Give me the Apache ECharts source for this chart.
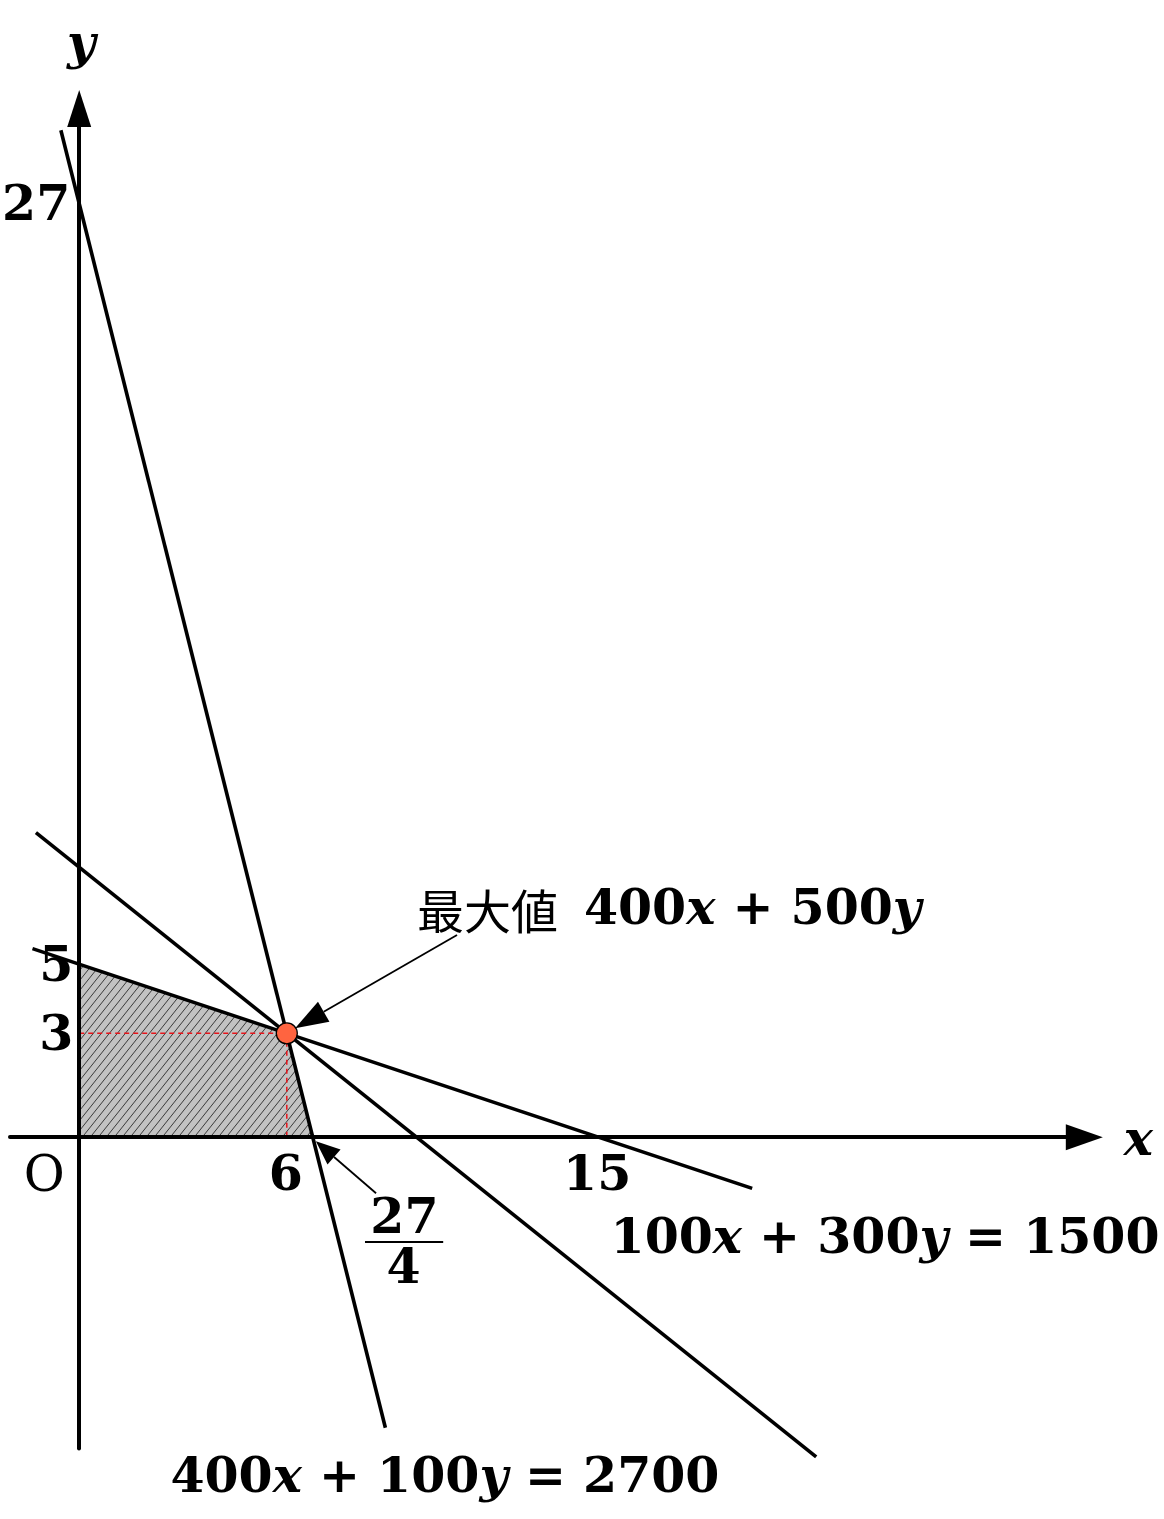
<!DOCTYPE html>
<html>
<head>
<meta charset="utf-8">
<script src="https://cdn.jsdelivr.net/npm/echarts@6/dist/echarts.min.js"></script>
<style>
  html, body { margin: 0; padding: 0; background: #fff; }
  #chart { width: 1164px; height: 1519px; }
</style>
</head>
<body>
<div id="chart"></div>
<script>
// ================= DATA =================

// 400x + 100y = 2700
const lineA = [[-0.53, 29.1], [8.85, -8.4]];
// 100x + 300y = 1500
const lineB = [[-1.35, 5.45], [19.45, -1.48]];
// 400x + 500y = 3900 (objective through the optimum)
const lineC = [[-1.25, 8.8], [21.3, -9.24]];

// feasible region
const regionX = [0, 0, 6, 6.75];
const regionY = [0, 5, 3, 0];

// optimum and its guide lines
const optimum = [6, 3];
const guideX = [0, 6, 6];
const guideY = [3, 3, 0];

// annotation arrows
const arrowFrom = [[10.92, 5.84], [8.58, -1.62]];
const arrowTo = [[6.24, 3.15], [6.84, -0.12]];

// tick values / labels
const xTicks = [6, 15];
const yTicks = [27, 5, 3];

// fraction 27/4 and the equation labels
const fracNum = '27';
const fracDen = '4';
const fracAt = [9.4, -3.03];
const fracBar = [[8.26, -3.03], [10.52, -3.03]];
const eqLabels = [
    { text: '{n|100}{v|x}{n| + 300}{v|y}{n| = 1500}', at: [23.29, -2.89] },
    { text: '{n|400}{v|x}{n| + 100}{v|y}{n| = 2700}', at: [10.57, -9.8] },
    { text: '{j|最大値}{n|400}{v|x}{n| + 500}{v|y}', at: [17.05, 6.62] }
];

// ================= LAYOUT =================
const UNIT = 34.6;
const X_MIN = -2, X_MAX = 29.05;
const Y_MIN = -9, Y_MAX = 29.73;

const SERIF = 'DejaVu Serif';
const FS = 49;
const rich = {
    n: { fontFamily: SERIF, fontWeight: 'bold', fontSize: FS, color: '#000', lineHeight: 60 },
    v: { fontFamily: SERIF, fontWeight: 'bold', fontStyle: 'italic', fontSize: FS, color: '#000', lineHeight: 60 },
    j: { fontFamily: 'Noto Sans CJK JP', fontSize: 47, color: '#000', lineHeight: 60, padding: [0, 26, 0, 0] },
    o: { fontFamily: SERIF, fontSize: 50, color: '#000', lineHeight: 60 }
};

// hatch tile for the feasible region
function makeHatch() {
    const w = 8, h = 10;
    const c = document.createElement('canvas');
    c.width = w; c.height = h;
    const g = c.getContext('2d');
    g.fillStyle = '#c2c2c2';
    g.fillRect(0, 0, w, h);
    g.strokeStyle = '#3a3a3a';
    g.lineWidth = 1;
    for (let k = -1; k <= 1; k++) {
        g.beginPath();
        g.moveTo(k * w, h);
        g.lineTo(k * w + w, 0);
        g.stroke();
    }
    return c;
}
const hatchTile = makeHatch();

const myChart = echarts.init(document.getElementById('chart'));

function lineSeries(pts, z) {
    return {
        type: 'line',
        data: pts,
        symbol: 'none',
        clip: false,
        silent: true,
        z: z || 4,
        lineStyle: { color: '#000', width: 3.6 }
    };
}

function textItem(value, formatter, offset) {
    return {
        value: value,
        label: {
            show: true,
            position: 'inside',
            formatter: formatter,
            offset: offset || [0, 0],
            color: '#000',
            textBorderWidth: 0,
            textBorderColor: 'transparent',
            rich: rich
        }
    };
}

const labelData = [];
labelData.push(textItem([0, 0], '{o|O}', [-35, 41]));
xTicks.forEach(v => labelData.push(textItem([v, 0], '{n|' + v + '}', [-1, 40])));
yTicks.forEach(v => labelData.push(textItem([0, v], '{n|' + v + '}', [v > 9 ? -43 : -23, 4])));
labelData.push(textItem([0, Y_MAX], '{v|y}', [2, -62]));
labelData.push(textItem([X_MAX, 0], '{v|x}', [54, 5]));
labelData.push(textItem([fracAt[0], fracAt[1]], '{n|' + fracNum + '}', [0, -22]));
labelData.push(textItem([fracAt[0], fracAt[1]], '{n|' + fracDen + '}', [-1, 28]));
eqLabels.forEach(e => labelData.push(textItem(e.at, e.text, [0, 3])));

const option = {
    animation: false,
    backgroundColor: '#fff',
    grid: {
        left: 10,
        top: 108.5,
        width: (X_MAX - X_MIN) * UNIT,
        height: (Y_MAX - Y_MIN) * UNIT,
        containLabel: false,
        outerBoundsMode: 'none'
    },
    xAxis: {
        type: 'value',
        min: X_MIN,
        max: X_MAX,
        z: 3,
        axisLine: {
            onZero: true,
            symbol: ['none', 'triangle'],
            symbolSize: [26, 37],
            lineStyle: { color: '#000', width: 4 }
        },
        axisTick: { show: false },
        axisLabel: { show: false },
        splitLine: { show: false }
    },
    yAxis: {
        type: 'value',
        min: Y_MIN,
        max: Y_MAX,
        z: 3,
        axisLine: {
            onZero: true,
            symbol: ['none', 'triangle'],
            symbolSize: [24, 37],
            lineStyle: { color: '#000', width: 4 }
        },
        axisTick: { show: false },
        axisLabel: { show: false },
        splitLine: { show: false }
    },
    series: [
        // hatched feasible region
        {
            type: 'custom',
            z: 1,
            silent: true,
            clip: false,
            data: [[regionX[0], regionY[0]]],
            renderItem: function (params, api) {
                const pts = regionX.map((x, i) => api.coord([x, regionY[i]]));
                return {
                    type: 'polygon',
                    shape: { points: pts },
                    style: { fill: { image: hatchTile, repeat: 'repeat' }, stroke: null }
                };
            }
        },
        // red dashed guides
        {
            type: 'line',
            z: 2,
            silent: true,
            symbol: 'none',
            data: guideX.map((x, i) => [x, guideY[i]]),
            lineStyle: { color: '#e8141b', width: 1.5, type: [5, 4] }
        },
        lineSeries(lineA),
        lineSeries(lineB),
        lineSeries(lineC),
        // fraction bar
        {
            type: 'line',
            z: 4,
            silent: true,
            symbol: 'none',
            clip: false,
            data: fracBar,
            lineStyle: { color: '#000', width: 2 }
        },
        // optimum point
        {
            type: 'scatter',
            z: 6,
            silent: true,
            data: [optimum],
            symbol: 'circle',
            symbolSize: 21,
            itemStyle: { color: '#ff6440', opacity: 1, borderColor: '#000', borderWidth: 1.3 }
        },
        // annotation arrows
        {
            type: 'custom',
            z: 5,
            silent: true,
            clip: false,
            data: arrowFrom.map((f, i) => [f[0], f[1], arrowTo[i][0], arrowTo[i][1]]),
            renderItem: function (params, api) {
                const heads = [[33, 23], [24, 20]];
                const head = heads[params.dataIndex];
                const p0 = api.coord([api.value(0), api.value(1)]);
                const p1 = api.coord([api.value(2), api.value(3)]);
                const dx = p1[0] - p0[0], dy = p1[1] - p0[1];
                const len = Math.hypot(dx, dy);
                const ux = dx / len, uy = dy / len;
                const bx = p1[0] - ux * head[0], by = p1[1] - uy * head[0];
                const nx = -uy * head[1] / 2, ny = ux * head[1] / 2;
                return {
                    type: 'group',
                    children: [
                        {
                            type: 'line',
                            shape: { x1: p0[0], y1: p0[1], x2: bx, y2: by },
                            style: { stroke: '#000', lineWidth: 1.8 }
                        },
                        {
                            type: 'polygon',
                            shape: { points: [[p1[0], p1[1]], [bx + nx, by + ny], [bx - nx, by - ny]] },
                            style: { fill: '#000' }
                        }
                    ]
                };
            }
        },
        // texts
        {
            type: 'scatter',
            z: 7,
            silent: true,
            clip: false,
            symbolSize: 0,
            itemStyle: { opacity: 1 },
            data: labelData
        }
    ]
};

myChart.setOption(option);
</script>
</body>
</html>
